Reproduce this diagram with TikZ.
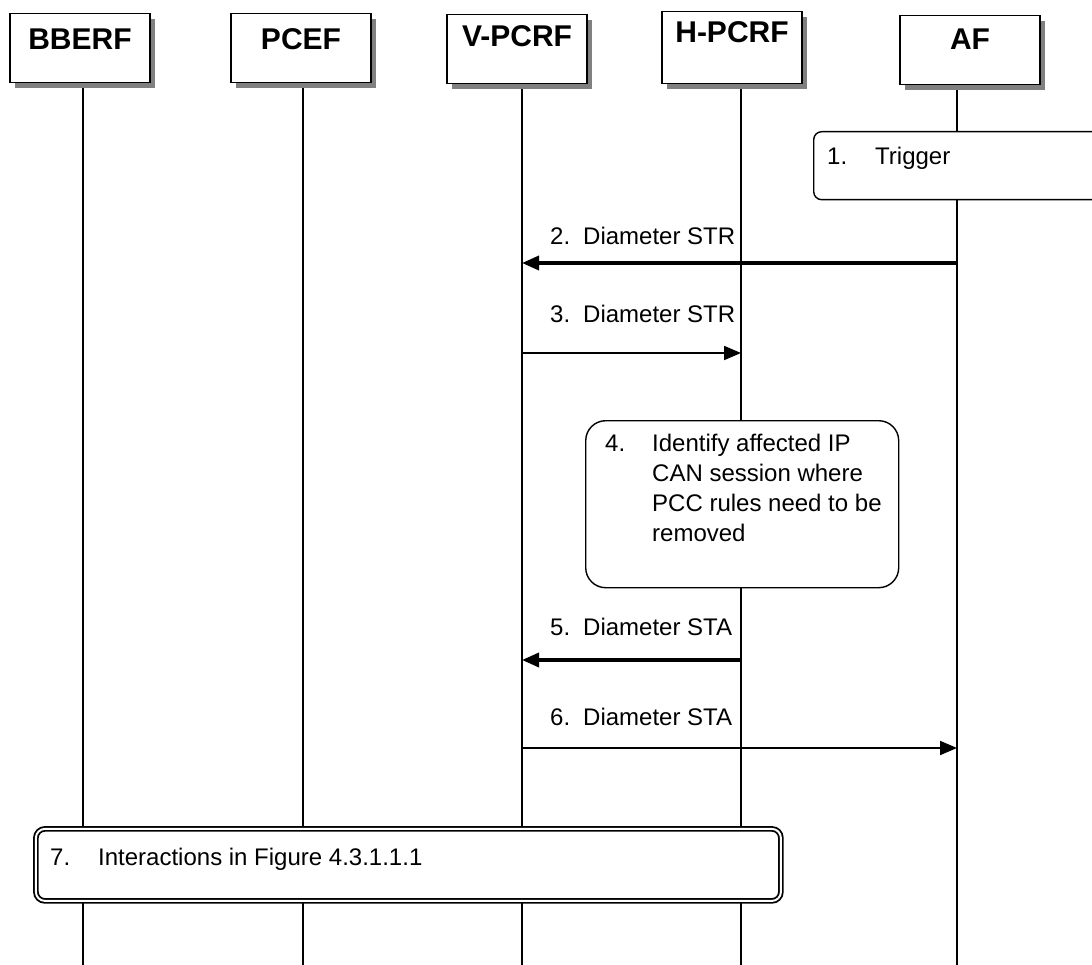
\documentclass[tikz,border=0pt]{standalone}
\usepackage{fontspec}
\setmainfont{Liberation Sans}
\usetikzlibrary{arrows.meta,shadows}
\begin{document}
\begin{tikzpicture}[x=1pt,y=-1pt,
  entity/.style={draw, line width=1.4pt, fill=white, minimum width=140pt,
    anchor=north, inner sep=0pt,
    drop shadow={shadow xshift=5pt, shadow yshift=-5pt, fill=black!50, opacity=1}},
  ename/.style={font=\fontsize{30}{36}\selectfont\bfseries, inner sep=0pt, anchor=base},
  life/.style={line width=1.3pt},
  msgthick/.style={line width=3.5pt, -{Triangle[length=17pt,width=14pt]}},
  msgthin/.style={line width=2pt, -{Triangle[length=17pt,width=14pt]}},
  lbl/.style={font=\fontsize{24}{30}\selectfont, inner sep=0pt, anchor=base west},
  stepbox/.style={draw, line width=1.4pt, fill=white, inner sep=0pt, anchor=north west},
  bigbox/.style={draw, double, double distance=2pt, line width=1.8pt, fill=white,
    rounded corners=9pt, inner sep=0pt, anchor=north west}
]
\useasboundingbox (0,0) rectangle (1092,965);
\clip (0,0) rectangle (1092,965);

% lifeline x positions and bottom edge
\coordinate (xBB) at (83,0);
\coordinate (xPC) at (303,0);
\coordinate (xV)  at (522,0);
\coordinate (xH)  at (741,0);
\coordinate (xAF) at (957,0);
\coordinate (bottom) at (0,966);

% lifelines
\foreach \x in {xBB,xPC,xV,xH,xAF}
  \draw[life] (\x |- 0,75) -- (bottom -| \x);

% entity boxes
\node[entity, minimum height=69pt] (bberf) at (80,13)  {};
\node[entity, minimum height=69pt] (pcef)  at (301,13) {};
\node[entity, minimum height=69pt] (vpcrf) at (517,14) {};
\node[entity, minimum height=72pt] (hpcrf) at (732,11) {};
\node[entity, minimum height=69pt] (af)    at (970,15) {};
\node[ename] (bberfT) at (80,50)  {BBERF};
\node[ename] (pcefT)  at (301,50) {PCEF};
\node[ename] (vpcrfT) at (517,47) {V-PCRF};
\node[ename] (hpcrfT) at (732,43) {H-PCRF};
\node[ename] (afT)    at (970,50) {AF};

% step 1
\node[stepbox, rounded corners=8pt, minimum width=300pt, minimum height=68pt] (s1) at (813,131) {};
\node[lbl] (s1n) at (827,165) {1.};
\node[lbl] (s1t) at (875,165) {Trigger};

% messages 2 and 3
\node[lbl] (m2) at (550,245) {2.\hspace{13pt}Diameter STR};
\draw[msgthick] (xAF |- 0,263) -- (xV |- 0,263);
\node[lbl] (m3) at (550,323) {3.\hspace{13pt}Diameter STR};
\draw[msgthin] (xV |- 0,353) -- (xH |- 0,353);

% step 4
\node[stepbox, rounded corners=20pt, minimum width=313pt, minimum height=167pt] (s4) at (585,420) {};
\node[lbl] (s4n) at (605,451) {4.};
\node[lbl, anchor=north west, align=left] (s4t) at (652,434)
  {Identify affected IP\\CAN session where\\PCC rules need to be\\removed};

% messages 5 and 6
\node[lbl] (m5) at (550,635) {5.\hspace{13pt}Diameter STA};
\draw[msgthick] (xH |- 0,660) -- (xV |- 0,660);
\node[lbl] (m6) at (550,725) {6.\hspace{13pt}Diameter STA};
\draw[msgthin] (xV |- 0,748) -- (xAF |- 0,748);

% step 7
\node[bigbox, minimum width=745pt, minimum height=72pt] (s7) at (35,828) {};
\node[lbl] (s7n) at (50,865) {7.};
\node[lbl] (s7t) at (98,865) {Interactions in Figure 4.3.1.1.1};
\end{tikzpicture}
\end{document}
